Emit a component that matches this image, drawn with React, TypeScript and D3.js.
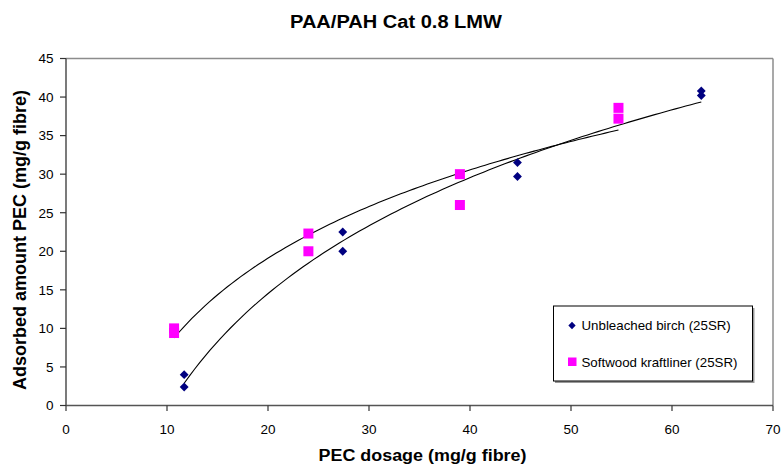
import React from "react";
import * as d3 from "d3";

const birchX = [11.7, 11.7, 27.4, 27.4, 44.7, 44.7, 62.9, 62.9];
const birchY = [4.0, 2.4, 22.5, 20.0, 31.5, 29.7, 40.8, 40.2];
const softX = [10.7, 10.7, 24.0, 24.0, 39.0, 39.0, 54.7, 54.7];
const softY = [10.0, 9.4, 22.3, 20.0, 30.0, 26.0, 38.6, 37.2];
const xTicks = [0, 10, 20, 30, 40, 50, 60, 70];
const yTicks = [0, 5, 10, 15, 20, 25, 30, 35, 40, 45];
const seriesNames = ["Unbleached birch (25SR)", "Softwood kraftliner (25SR)"];
const title = "PAA/PAH Cat 0.8 LMW";
const xTitle = "PEC dosage (mg/g fibre)";
const yTitle = "Adsorbed amount PEC (mg/g fibre)";

const W = 782;
const H = 466;
const FONT = "'Liberation Sans', Arial, Helvetica, sans-serif";

function logFit(xs: number[], ys: number[]) {
  const lx = xs.map((v) => Math.log(v));
  const mx = d3.mean(lx) as number;
  const my = d3.mean(ys) as number;
  let sxx = 0;
  let sxy = 0;
  lx.forEach((v, i) => {
    sxx += (v - mx) * (v - mx);
    sxy += (v - mx) * (ys[i] - my);
  });
  const a = sxy / sxx;
  const b = my - a * mx;
  return (x: number) => a * Math.log(x) + b;
}

export default function App() {
  const x = d3.scaleLinear().domain([0, 70]).range([66, 773]);
  const y = d3.scaleLinear().domain([0, 45]).range([405.5, 58.5]);

  const trend = (xs: number[], ys: number[]) => {
    const f = logFit(xs, ys);
    const [lo, hi] = d3.extent(xs) as [number, number];
    const samples = d3.range(0, 101).map((i) => lo + ((hi - lo) * i) / 100);
    return d3
      .line<number>()
      .x((v) => x(v))
      .y((v) => y(f(v)))(samples) as string;
  };

  const diamond = d3.symbol().type(d3.symbolDiamond2).size(50)() as string;
  const diamondLeg = d3.symbol().type(d3.symbolDiamond2).size(34)() as string;

  return (
    <svg
      width={W}
      height={H}
      style={{ position: "absolute", left: 0, top: 0, background: "#fff" }}
      fontFamily={FONT}
    >
      <rect x={0} y={0} width={W} height={H} fill="#fff" />
      {/* plot area border top/right */}
      <line x1={66} x2={773} y1={58.5} y2={58.5} stroke="#8c8c8c" strokeWidth={1.5} />
      <line x1={773} x2={773} y1={58.5} y2={405.5} stroke="#8c8c8c" strokeWidth={1.5} />

      {/* axes */}
      <line x1={66} x2={66} y1={58.5} y2={405.5} stroke="#333" strokeWidth={1.3} />
      <line x1={66} x2={773} y1={405.5} y2={405.5} stroke="#555" strokeWidth={1.6} />
      {yTicks.map((t) => (
        <g key={"y" + t}>
          <line x1={60} x2={66} y1={y(t)} y2={y(t)} stroke="#333" strokeWidth={1.2} />
          <text
            x={53.5}
            y={y(t)}
            dy="0.36em"
            textAnchor="end"
            fontSize={13.5}
            fill="#000"
          >
            {t}
          </text>
        </g>
      ))}
      {xTicks.map((t) => (
        <g key={"x" + t}>
          <line x1={x(t)} x2={x(t)} y1={405.5} y2={411} stroke="#333" strokeWidth={1.2} />
          <text x={x(t)} y={434} textAnchor="middle" fontSize={13.5} fill="#000">
            {t}
          </text>
        </g>
      ))}

      {/* trendlines */}
      <path d={trend(birchX, birchY)} fill="none" stroke="#000" strokeWidth={1.1} />
      <path d={trend(softX, softY)} fill="none" stroke="#000" strokeWidth={1.1} />

      {/* markers */}
      {softX.map((v, i) => (
        <rect
          key={"s" + i}
          x={x(v) - 5}
          y={y(softY[i]) - 5}
          width={10}
          height={10}
          fill="#ff00ff"
        />
      ))}
      {birchX.map((v, i) => (
        <path
          key={"b" + i}
          d={diamond}
          transform={`translate(${x(v)},${y(birchY[i])})`}
          fill="#000080"
        />
      ))}

      {/* legend */}
      <rect x={555} y={308} width={199.5} height={75} fill="#999" />
      <rect x={553.5} y={306} width={199} height={75} fill="#fff" stroke="#000" strokeWidth={1} />
      <path d={diamondLeg} transform="translate(572,325.5)" fill="#000080" />
      <text x={581.5} y={330} fontSize={13.3} fill="#000">
        {seriesNames[0]}
      </text>
      <rect x={568} y={357.5} width={8.5} height={8.5} fill="#ff00ff" />
      <text x={581.5} y={366.5} fontSize={13.3} fill="#000">
        {seriesNames[1]}
      </text>

      {/* titles */}
      <text
        x={396}
        y={28}
        textAnchor="middle"
        fontSize={18}
        fontWeight="bold"
        textLength={212}
        lengthAdjust="spacingAndGlyphs"
      >
        {title}
      </text>
      <text
        x={422.5}
        y={461}
        textAnchor="middle"
        fontSize={16}
        fontWeight="bold"
        textLength={208}
        lengthAdjust="spacingAndGlyphs"
      >
        {xTitle}
      </text>
      <text
        transform="translate(26,240) rotate(-90)"
        textAnchor="middle"
        fontSize={17.5}
        fontWeight="bold"
        textLength={300}
        lengthAdjust="spacingAndGlyphs"
      >
        {yTitle}
      </text>
    </svg>
  );
}
